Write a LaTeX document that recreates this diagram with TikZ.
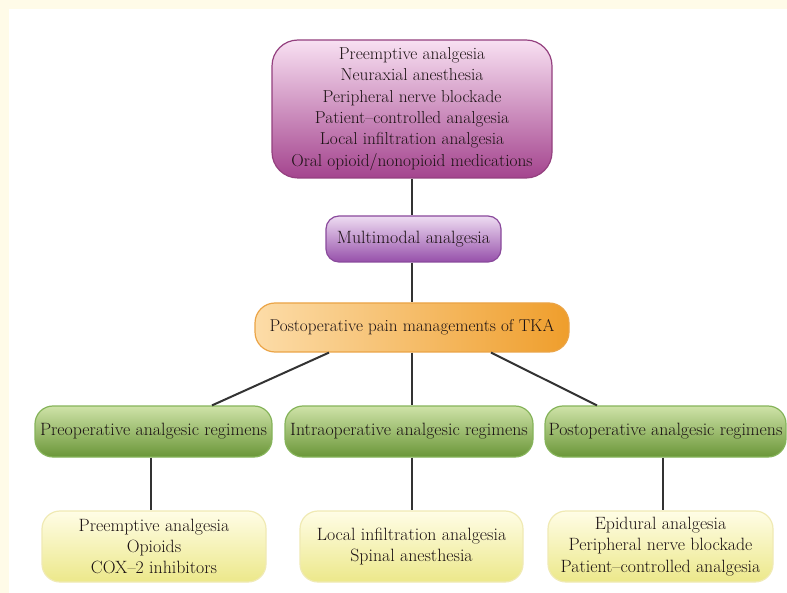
\documentclass[tikz,border=0pt]{standalone}
\usepackage{tikz}
\definecolor{bgy}{HTML}{FFFBE8}
\definecolor{txt}{HTML}{1C1214}
\definecolor{lin}{HTML}{333333}
\definecolor{topd}{HTML}{94407F}
\definecolor{topc1}{HTML}{F8E0F2}
\definecolor{topc2}{HTML}{A4448E}
\definecolor{mmd}{HTML}{8A4A9C}
\definecolor{mmc1}{HTML}{EEDCF2}
\definecolor{mmc2}{HTML}{9650AA}
\definecolor{ord}{HTML}{EBA446}
\definecolor{orc1}{HTML}{FCDCA8}
\definecolor{orc2}{HTML}{EF9E2C}
\definecolor{grd}{HTML}{86B45A}
\definecolor{grc1}{HTML}{CFE3A8}
\definecolor{grc2}{HTML}{6A9638}
\definecolor{yed}{HTML}{F0EAB4}
\definecolor{yec1}{HTML}{FFFDE6}
\definecolor{yec2}{HTML}{ECE88A}
\tikzset{
  box/.style={draw, line width=1.2pt, align=center, text=txt, inner sep=0pt,
    font=\fontsize{17.8}{21.4}\selectfont},
  topbox/.style={box, draw=topd, top color=topc1, bottom color=topc2, rounded corners=26pt,
    font=\fontsize{17.3}{21.4}\selectfont},
  mmbox/.style={box, draw=mmd, top color=mmc1, bottom color=mmc2, rounded corners=13pt},
  orbox/.style={box, draw=ord, left color=orc1, right color=orc2, rounded corners=20pt,
    font=\fontsize{17.1}{21.4}\selectfont},
  grbox/.style={box, draw=grd, top color=grc1, bottom color=grc2, rounded corners=18pt},
  yebox/.style={box, draw=yed, top color=yec1, bottom color=yec2, rounded corners=18pt},
  conn/.style={draw=lin, line width=2pt},
}
\begin{document}
\begin{tikzpicture}[x=1pt,y=-1pt]
\useasboundingbox (0,0) rectangle (787,593);
\fill[bgy] (0,0) rectangle (787,593);
\fill[white] (9,9) rectangle (787,593);

\node[topbox, minimum width=280pt, minimum height=138pt] (top) at (412,109)
  {Preemptive analgesia\\Neuraxial anesthesia\\Peripheral nerve blockade\\Patient--controlled analgesia\\Local infiltration analgesia\\Oral opioid/nonopioid medications};
\node[mmbox, minimum width=175pt, minimum height=46pt] (mm) at (413.5,239) {Multimodal analgesia};
\node[orbox, minimum width=314pt, minimum height=49pt] (or) at (412,327.5) {Postoperative pain managements of TKA};

\node[grbox, minimum width=237pt, minimum height=51pt] (gl) at (153.5,431.5) {Preoperative analgesic regimens};
\node[grbox, minimum width=248pt, minimum height=51pt] (gm) at (409,431.5) {Intraoperative analgesic regimens};
\node[grbox, minimum width=241pt, minimum height=51pt] (gr) at (665.5,431.5) {Postoperative analgesic regimens};

\node[yebox, minimum width=224pt, minimum height=71pt] (yl) at (154,546.5) {Preemptive analgesia\\Opioids\\COX--2 inhibitors};
\node[yebox, minimum width=223pt, minimum height=71pt] (ym) at (411.5,546.5) {Local infiltration analgesia\\Spinal anesthesia};
\node[yebox, minimum width=225pt, minimum height=71pt] (yr) at (660.5,546.5) {Epidural analgesia\\Peripheral nerve blockade\\Patient--controlled analgesia};

\draw[conn] (top.south) -- (top.south |- mm.north);
\draw[conn] (mm.south -| top.south) -- (top.south |- or.north);
\draw[conn] ([xshift=-83pt]or.south) -- ([xshift=58.5pt]gl.north);
\draw[conn] (or.south) -- (or.south |- gm.north);
\draw[conn] ([xshift=79pt]or.south) -- ([xshift=-68.5pt]gr.north);
\draw[conn] ([xshift=-2.5pt]gl.south) -- ([xshift=-2.5pt]gl.south |- yl.north);
\draw[conn] ([xshift=3pt]gm.south) -- ([xshift=3pt]gm.south |- ym.north);
\draw[conn] ([xshift=-2.5pt]gr.south) -- ([xshift=-2.5pt]gr.south |- yr.north);
\end{tikzpicture}
\end{document}
